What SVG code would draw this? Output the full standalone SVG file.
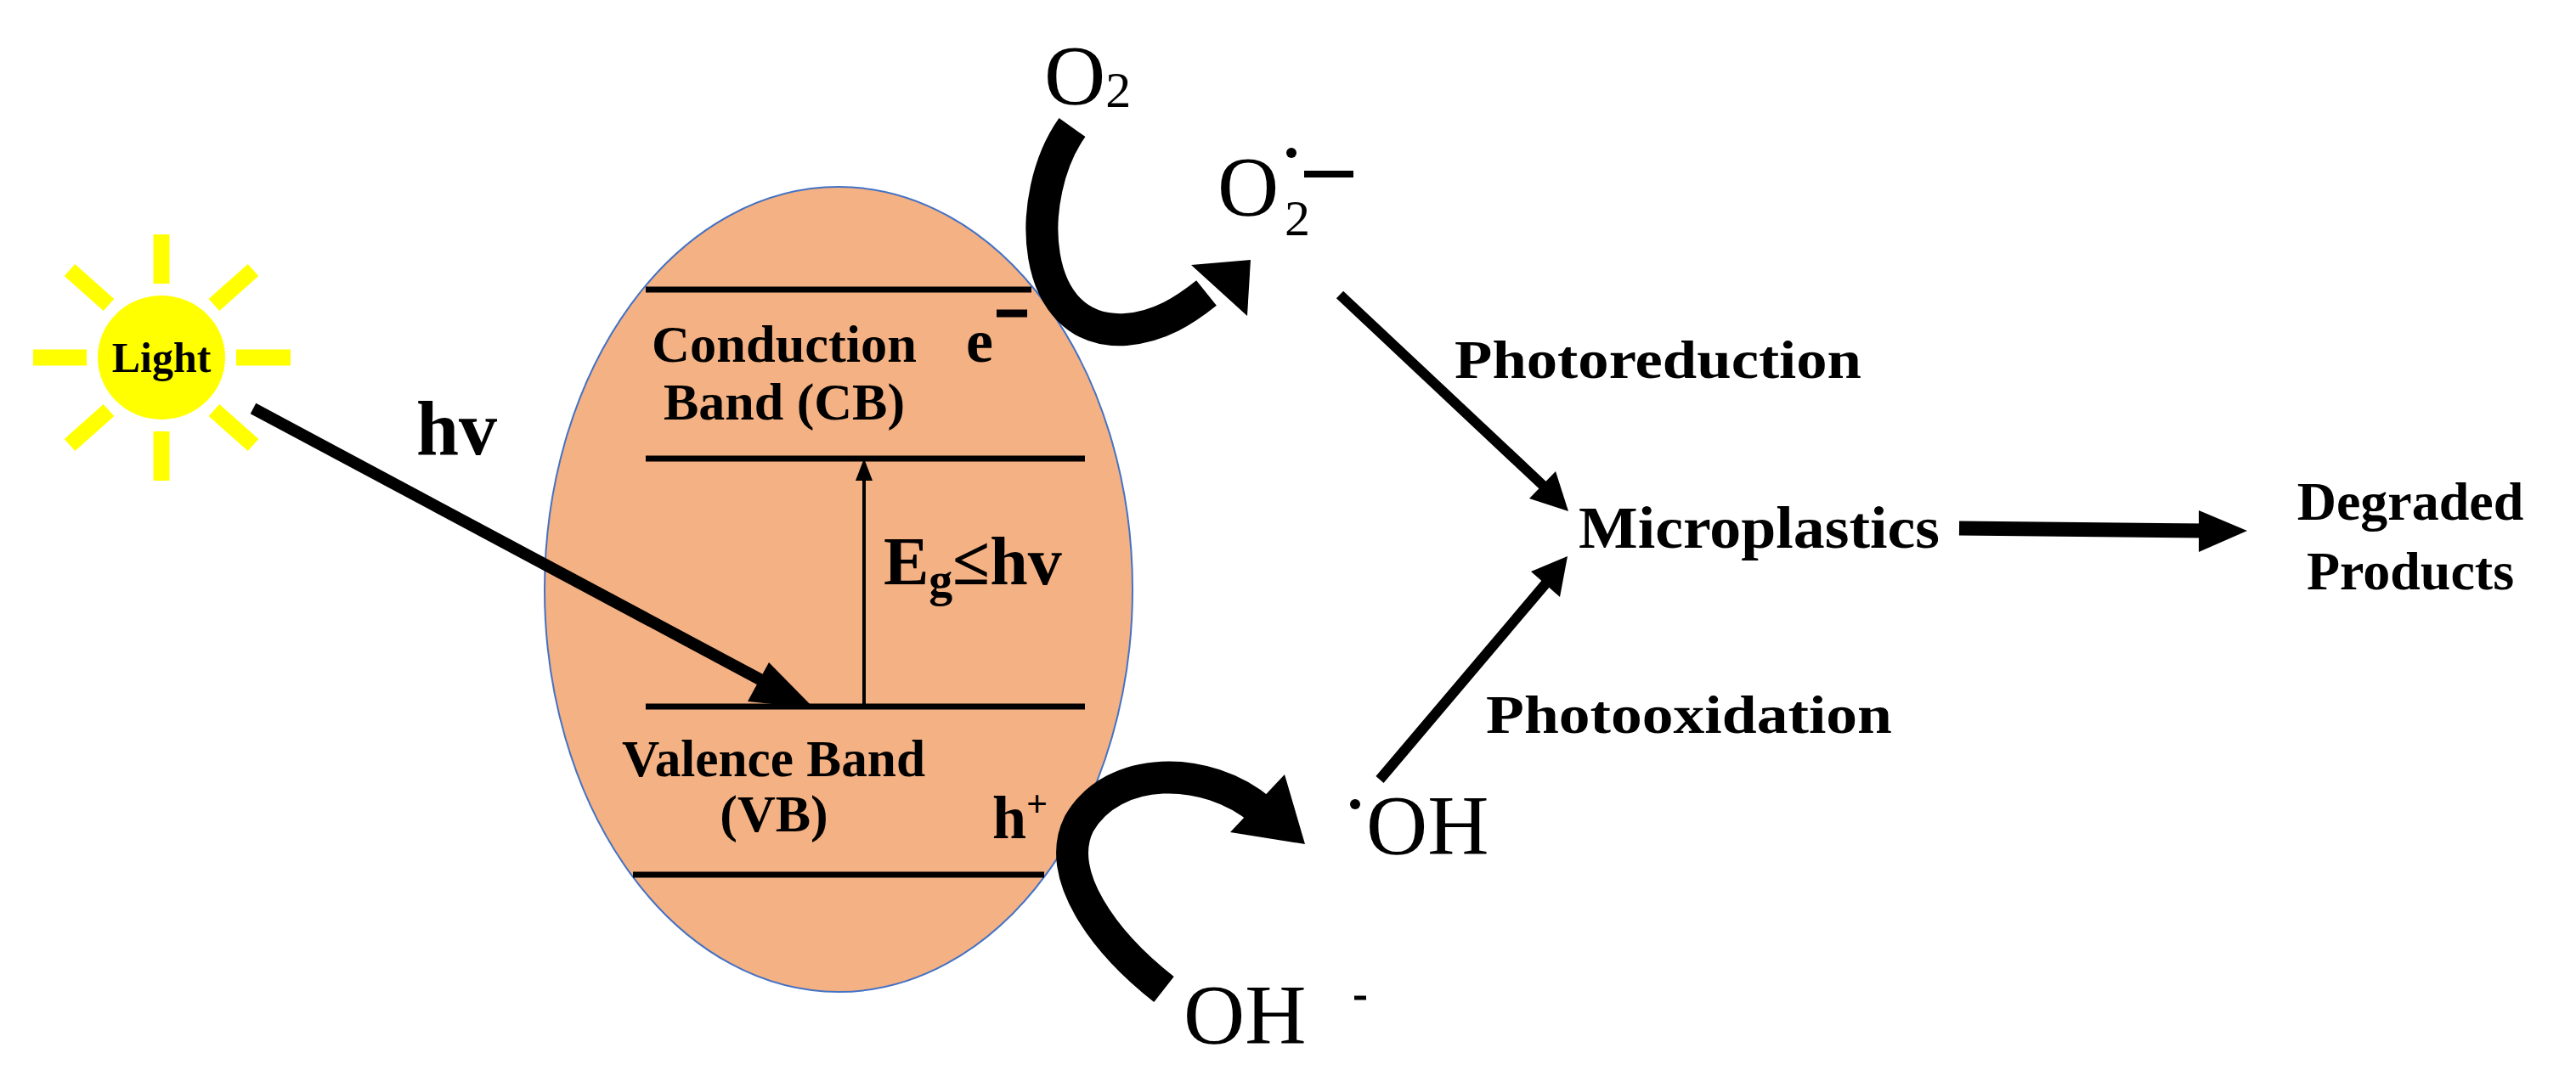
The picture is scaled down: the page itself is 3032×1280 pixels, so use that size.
<svg xmlns="http://www.w3.org/2000/svg" width="3032" height="1280" viewBox="0 0 3032 1280">
<defs>
<style>
.b{font-family:"Liberation Serif",serif;font-weight:bold;fill:#000}
.r{font-family:"Liberation Serif",serif;fill:#000}
.ray{stroke:#FFFF00;stroke-width:19}
.ln{stroke:#000;stroke-width:7;fill:none}
.big{stroke:#000;stroke-width:38;fill:none}
</style>
</defs>
<rect width="3032" height="1280" fill="#fff"/>
<g id="sun">
<g class="ray">
<line x1="190" y1="334" x2="190" y2="276"/><line x1="190" y1="508" x2="190" y2="566"/>
<line x1="102" y1="421" x2="39" y2="421"/><line x1="278" y1="421" x2="342" y2="421"/>
<line x1="128" y1="359" x2="82" y2="318"/><line x1="252" y1="359" x2="298" y2="318"/>
<line x1="128" y1="483" x2="82" y2="524"/><line x1="252" y1="483" x2="298" y2="524"/>
</g>
<ellipse cx="190" cy="421" rx="75" ry="73" fill="#FFFF00"/>
<text class="b" x="190" y="438" font-size="50" text-anchor="middle">Light</text>
</g>
<g id="particle">
<ellipse cx="987" cy="694" rx="346" ry="474" fill="#F4B183" stroke="#4472C4" stroke-width="2"/>
<line class="ln" x1="760" y1="341" x2="1214" y2="341"/>
<line class="ln" x1="760" y1="540" x2="1277" y2="540"/>
<line class="ln" x1="760" y1="832" x2="1277" y2="832"/>
<line class="ln" x1="745" y1="1030" x2="1229" y2="1030"/>
<text class="b" x="767" y="426" font-size="62" textLength="312" lengthAdjust="spacingAndGlyphs">Conduction</text>
<text class="b" x="923" y="494" font-size="62" text-anchor="middle">Band (CB)</text>
<text class="b" x="1137" y="426" font-size="72">e</text>
<line x1="1173" y1="369" x2="1209" y2="369" stroke="#000" stroke-width="9"/>
<text class="b" x="1040" y="688" font-size="80">E<tspan font-size="56" dy="14">g</tspan><tspan dy="-14">≤hv</tspan></text>
<text class="b" x="732" y="914" font-size="62" textLength="357" lengthAdjust="spacingAndGlyphs">Valence Band</text>
<text class="b" x="911" y="979" font-size="62" text-anchor="middle">(VB)</text>
<text class="b" x="1168" y="987" font-size="72">h<tspan font-size="44" dy="-26">+</tspan></text>
</g>
<g id="labels">
<text class="b" x="490" y="535" font-size="90">hv</text>
<text class="r" x="1229" y="122" font-size="100">O<tspan font-size="60" dy="4">2</tspan></text>
<text class="r" x="1433" y="253" font-size="100">O</text>
<text class="r" x="1512" y="277" font-size="60">2</text>
<circle cx="1520" cy="180" r="6"/>
<line x1="1535" y1="205" x2="1593" y2="205" stroke="#000" stroke-width="8"/>
<circle cx="1595" cy="947" r="6"/>
<text class="r" x="1608" y="1005" font-size="100">OH</text>
<text class="r" x="1393" y="1228" font-size="100">OH</text>
<line x1="1594" y1="1175" x2="1608" y2="1175" stroke="#000" stroke-width="5"/>
<text class="b" x="1712" y="445" font-size="64" textLength="479" lengthAdjust="spacingAndGlyphs">Photoreduction</text>
<text class="b" x="1858" y="645" font-size="70" textLength="425" lengthAdjust="spacingAndGlyphs">Microplastics</text>
<text class="b" x="1749" y="863" font-size="64" textLength="478" lengthAdjust="spacingAndGlyphs">Photooxidation</text>
<text class="b" x="2837" y="612" font-size="64" text-anchor="middle">Degraded</text>
<text class="b" x="2837" y="694" font-size="64" text-anchor="middle">Products</text>
</g>
<g id="connectors">
<line x1="298" y1="481" x2="915" y2="811" stroke="#000" stroke-width="14"/>
<polygon points="958,834 880,826 905,780"/>
<line x1="1017" y1="832" x2="1017" y2="560" stroke="#000" stroke-width="4"/>
<polygon points="1017,540 1007,566 1027,566"/>
<path class="big" d="M1262,150 C1205,230 1210,395 1325,388 C1365,385 1395,365 1420,345"/>
<polygon points="1402,312 1472,306 1468,372"/>
<path class="big" d="M1370,1165 C1300,1110 1240,1030 1270,970 C1310,900 1420,900 1485,955"/>
<polygon points="1448,980 1512,912 1536,994"/>
<line x1="1577" y1="347" x2="1825" y2="580" stroke="#000" stroke-width="12"/>
<polygon points="1846,602 1800,587 1831,555"/>
<line x1="1624" y1="918" x2="1828" y2="677" stroke="#000" stroke-width="12"/>
<polygon points="1845,655 1836,703 1802,673"/>
<line x1="2306" y1="622" x2="2595" y2="625" stroke="#000" stroke-width="17"/>
<polygon points="2645,625 2588,601 2588,650"/>
</g>
</svg>
